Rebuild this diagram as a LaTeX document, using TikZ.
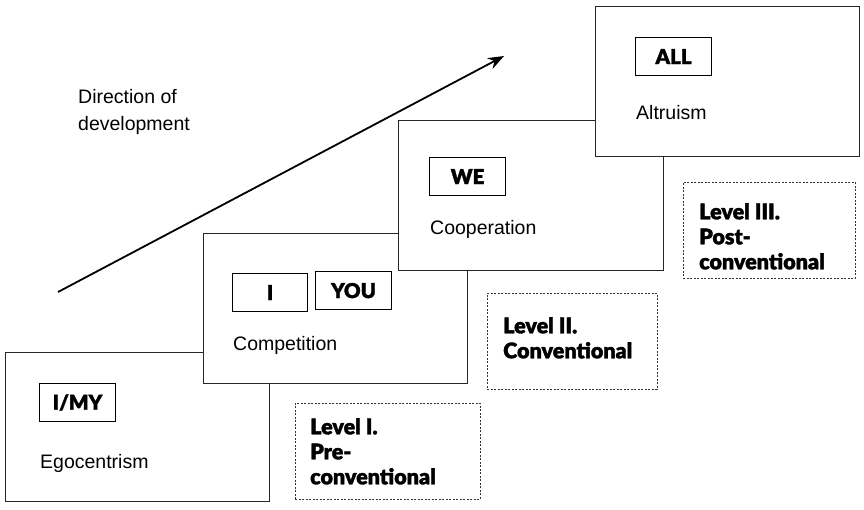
\documentclass[tikz,border=0pt]{standalone}
\usepackage{fontspec}
\setmainfont{Liberation Sans}
\IfFontExistsTF{Lato Black}{\newfontfamily\heavyfont{Lato Black}[FakeBold=1.6]}{\newfontfamily\heavyfont{Liberation Sans}[FakeBold=2.5]}
\usetikzlibrary{arrows.meta,positioning}

\begin{document}
\begin{tikzpicture}[x=1pt,y=-1pt,
	every node/.style={font=\fontsize{19.5}{22}\selectfont, inner sep=0pt},
	stage/.style={draw=black!85, fill=white, line width=0.8pt, anchor=north west, minimum width=264pt, minimum height=150pt},
	tag/.style={draw, line width=1.1pt, anchor=north west, minimum width=76pt, minimum height=38pt, font=\heavyfont\fontsize{20.5}{22}\selectfont},
	level/.style={draw=black!80, line width=0.7pt, dash pattern=on 2pt off 1.5pt, anchor=north west},
	leveltext/.style={anchor=north west, align=left, font=\heavyfont\fontsize{21.5}{25}\selectfont}]
	\useasboundingbox (0,0) rectangle (864,509);
	% direction of development
	\coordinate (from) at (58,292);
	\coordinate (to) at (504,56);
	\draw[line width=1.8pt, -{Stealth[length=16pt,width=12pt]}] (from) -- (to);
	\node[anchor=north west, align=left, font=\fontsize{19.5}{27}\selectfont] (dir) at (78,89) {Direction of\\ development};
	% stage 1
	\node[stage, minimum width=264pt, minimum height=149pt] (ego) at (5,352) {};
	\node[tag] (imy) at (39,383) {I/MY};
	\node[anchor=west] (egot) at (40,463) {Egocentrism};
	\node[level, minimum width=185pt, minimum height=96pt] (lev1) at (295,403) {};
	\node[leveltext] (lev1t) at (310,418) {Level I.\\ Pre-\\ conventional};
	% stage 2
	\node[stage] (comp) at (203,233) {};
	\node[tag, minimum width=75pt] (i) at (232,273) {I};
	\node[tag] (you) at (315,271) {YOU};
	\node[anchor=west] (compt) at (233,345) {Competition};
	\node[level, minimum width=170pt, minimum height=96pt] (lev2) at (487,293) {};
	\node[leveltext] (lev2t) at (503,317) {Level II.\\ Conventional};
	% stage 3
	\node[stage, minimum width=265pt] (coop) at (398,120) {};
	\node[tag] (we) at (429,157) {WE};
	\node[anchor=west] (coopt) at (430,229) {Cooperation};
	\node[level, minimum width=172pt, minimum height=96pt] (lev3) at (683,182) {};
	\node[leveltext] (lev3t) at (699,203) {Level III.\\ Post-\\ conventional};
	% stage 4
	\node[stage] (altr) at (595,6) {};
	\node[tag] (all) at (635,37) {ALL};
	\node[anchor=west] (altrt) at (636,113) {Altruism};
\end{tikzpicture}
\end{document}
